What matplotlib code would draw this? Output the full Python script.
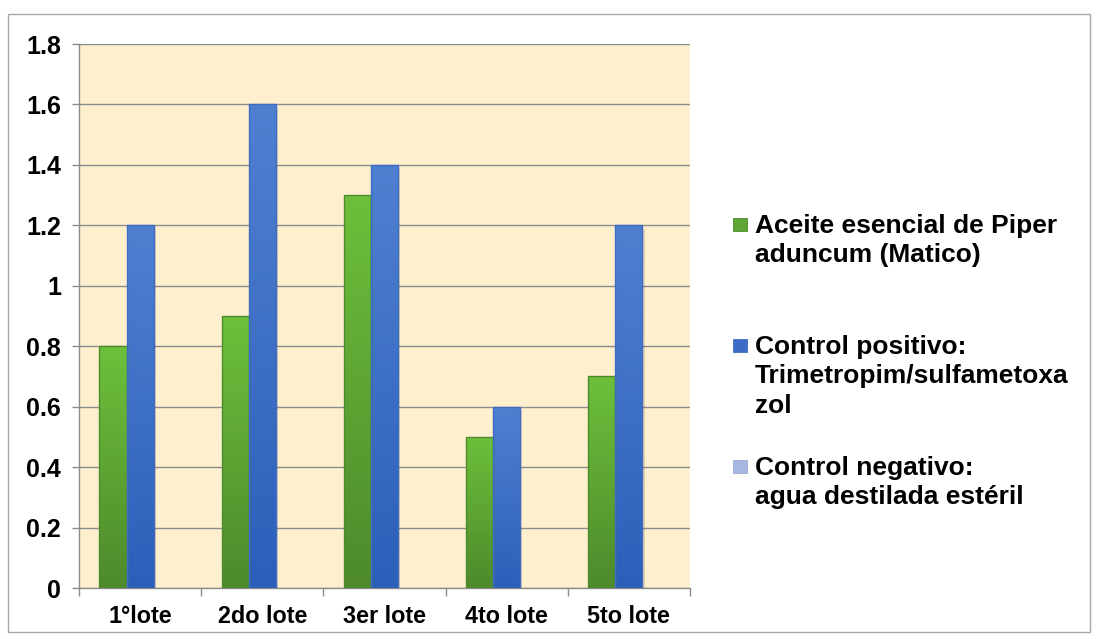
import numpy as np
import matplotlib.pyplot as plt
from matplotlib.patches import Rectangle
from matplotlib.colors import LinearSegmentedColormap

plt.rcParams["font.family"] = ["Liberation Sans", "DejaVu Sans"]
plt.rcParams["font.weight"] = "bold"

CATEGORIES = ["1°lote", "2do lote", "3er lote", "4to lote", "5to lote"]
ACEITE = [0.8, 0.9, 1.3, 0.5, 0.7]
CONTROL_POS = [1.2, 1.6, 1.4, 0.6, 1.2]
CONTROL_NEG = [0, 0, 0, 0, 0]
SERIES_LABELS = [
    "Aceite esencial de Piper\naduncum (Matico)",
    "Control positivo:\nTrimetropim/sulfametoxa\nzol",
    "Control negativo:\nagua destilada estéril",
]
Y_TICKS = [0, 0.2, 0.4, 0.6, 0.8, 1, 1.2, 1.4, 1.6, 1.8]
Y_TICK_LABELS = ["0", "0.2", "0.4", "0.6", "0.8", "1", "1.2", "1.4", "1.6", "1.8"]

# (top colour, bottom colour, edge, legend swatch)
STYLES = [
    ("#6CC03B", "#4E8A2C", "#4F8A2D", "#5DA535"),
    ("#4F80D0", "#2C5FBA", "#3D6CC0", "#3C6CC6"),
    ("#B4C2E6", "#94A6D6", "#9AAAD8", "#A9B8E2"),
]

W, H = 1096, 639
fig = plt.figure(figsize=(W / 100, H / 100), dpi=100)
ax = fig.add_axes([79 / W, 1 - 588 / H, (690 - 79) / W, (588 - 44) / H])
ax.set_facecolor("#FEF0CF")

x = np.arange(len(CATEGORIES))
bw = 1 / 4.5
grad = np.linspace(0, 1, 256).reshape(-1, 1)

for i, vals in enumerate([ACEITE, CONTROL_POS, CONTROL_NEG]):
    top, bottom, edge, _ = STYLES[i]
    cmap = LinearSegmentedColormap.from_list(f"g{i}", [bottom, top])
    for xc, v in zip(x + (i - 1) * bw, vals):
        if v <= 0:
            continue
        x0 = xc - bw / 2
        # soft shadow to the right of the bar
        shadow = Rectangle((x0 + 0.018, 0), bw, v - 0.012, facecolor="#000000",
                           alpha=0.12, edgecolor="none", zorder=2)
        ax.add_patch(shadow)
        bar = Rectangle((x0, 0), bw, v, facecolor="none", edgecolor=edge,
                        linewidth=1.0, zorder=4)
        ax.add_patch(bar)
        im = ax.imshow(grad, cmap=cmap, origin="lower", aspect="auto",
                       extent=(x0, x0 + bw, 0, v), zorder=3)
        im.set_clip_path(bar)

ax.set_xlim(-0.5, len(CATEGORIES) - 0.5)
ax.set_ylim(0, 1.8)
ax.set_yticks(Y_TICKS)
ax.set_yticklabels(Y_TICK_LABELS)
ax.set_xticks(x)
ax.set_xticklabels(CATEGORIES)
ax.set_xticks(np.arange(-0.5, len(CATEGORIES)), minor=True)
ax.tick_params(axis="x", which="major", length=0, pad=12, labelsize=16.8)
ax.tick_params(axis="x", which="minor", length=6, width=1, color="#8C8C8C")
ax.tick_params(axis="y", length=5, width=1, color="#8C8C8C", pad=8, labelsize=18)
ax.grid(axis="y", color="#8C8C8C", linewidth=1, zorder=1)
ax.set_axisbelow(True)
for side in ["top", "right"]:
    ax.spines[side].set_visible(False)
for side in ["left", "bottom"]:
    ax.spines[side].set_color("#8C8C8C")
    ax.spines[side].set_linewidth(1)

# legend, drawn by hand so the swatch sits on the first line of each label
legend_tops = [214, 335, 456]
for (label, top_px, style) in zip(SERIES_LABELS, legend_tops, STYLES):
    fig.patches.append(Rectangle((733 / W, 1 - (top_px + 17) / H), 14 / W, 13 / H,
                                 transform=fig.transFigure, facecolor=style[3],
                                 edgecolor=style[2], linewidth=0.6))
    fig.text(755 / W, 1 - top_px / H, label, ha="left", va="top",
             fontsize=19, fontweight="bold", linespacing=1.28)

# chart border
fig.patches.append(Rectangle((8 / W, 1 - 632 / H), (1090 - 8) / W, (632 - 14) / H,
                             transform=fig.transFigure, facecolor="none",
                             edgecolor="#A6A6A6", linewidth=1))

fig.savefig("out.png", dpi=100)
